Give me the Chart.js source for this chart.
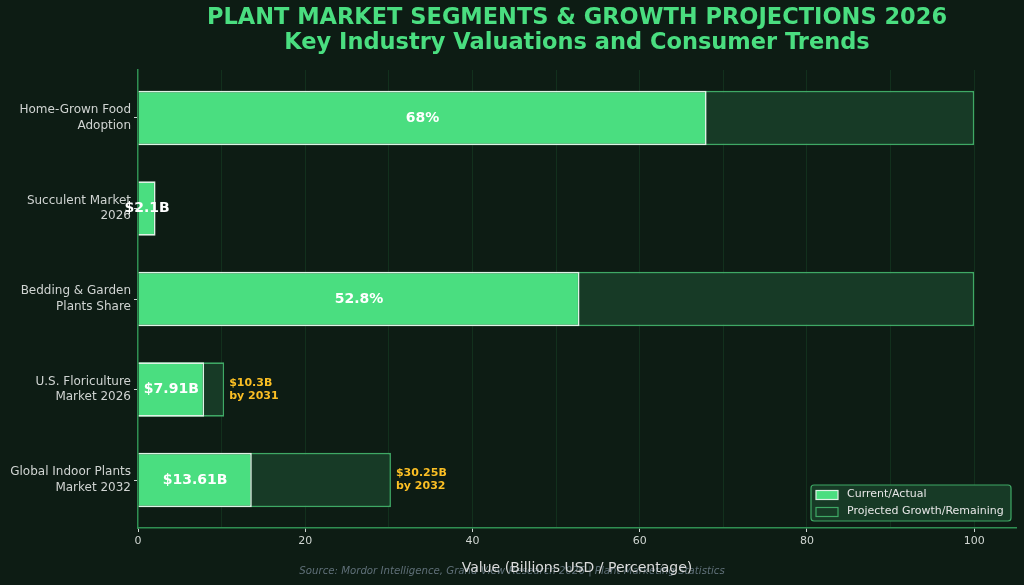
<!DOCTYPE html>
<html>
<head>
<meta charset="utf-8">
<script src="https://cdn.jsdelivr.net/npm/chart.js@4.4.1/dist/chart.umd.min.js"></script>
<style>
  html, body { margin: 0; padding: 0; background: #0d1c14; }
  #wrap { width: 1024px; height: 585px; }
</style>
</head>
<body>
<div id="wrap"><canvas id="chart" width="1024" height="585"></canvas></div>
<script>
// data
const categories = [
    ['Home-Grown Food', 'Adoption'],
    ['Succulent Market', '2026'],
    ['Bedding & Garden', 'Plants Share'],
    ['U.S. Floriculture', 'Market 2026'],
    ['Global Indoor Plants', 'Market 2032']
];
const currentValues = [68, 2.1, 52.8, 7.91, 13.61];
const projectedValues = [100, null, 100, 10.3, 30.25];
const currentLabels = ['68%', '$2.1B', '52.8%', '$7.91B', '$13.61B'];
const projectedLabels = [null, null, null, ['$10.3B', 'by 2031'], ['$30.25B', 'by 2032']];
const seriesNames = ['Current/Actual', 'Projected Growth/Remaining'];
const titleLines = ['PLANT MARKET SEGMENTS & GROWTH PROJECTIONS 2026', 'Key Industry Valuations and Consumer Trends'];
const xAxisTitle = 'Value (Billions USD / Percentage)';
const sourceText = 'Source: Mordor Intelligence, Grand View Research 2026 | Plant Marketing Statistics';

const FONT = "'DejaVu Sans', sans-serif";
const BG = '#0d1c14';
const GREEN = '#4ade80';
const DARK = '#173a26';
const EDGE = '#3fa865';
const SPINE = '#2f8f52';

// категории идут по линейной оси (индексы), чтобы поля сверху/снизу были как в оригинале
const toPoints = values => values
    .map((v, i) => ({ x: v, y: i }))
    .filter(p => p.x != null);

// фон и подпись источника (под всем остальным)
const backgroundPlugin = {
    id: 'bg',
    beforeDraw(chart) {
        const ctx = chart.ctx;
        ctx.save();
        ctx.fillStyle = BG;
        ctx.fillRect(0, 0, chart.width, chart.height);
        ctx.font = 'italic 10.2px ' + FONT;
        ctx.fillStyle = '#5f6f78';
        ctx.textAlign = 'center';
        ctx.textBaseline = 'middle';
        ctx.fillText(sourceText, 512, 571);
        ctx.restore();
    }
};

// подписи значений на столбцах
const valueLabelPlugin = {
    id: 'valueLabels',
    afterDatasetsDraw(chart) {
        const ctx = chart.ctx;
        ctx.save();
        ctx.textBaseline = 'middle';
        const curPoints = chart.data.datasets[0].data;
        chart.getDatasetMeta(0).data.forEach((bar, j) => {
            const i = curPoints[j].y;
            ctx.font = 'bold 14px ' + FONT;
            ctx.fillStyle = '#ffffff';
            ctx.textAlign = 'center';
            ctx.fillText(currentLabels[i], (bar.x + bar.base) / 2, bar.y);
        });
        const projPoints = chart.data.datasets[1].data;
        chart.getDatasetMeta(1).data.forEach((bar, j) => {
            const lines = projectedLabels[projPoints[j].y];
            if (!lines) return;
            ctx.font = 'bold 11px ' + FONT;
            ctx.fillStyle = '#fbbf24';
            ctx.textAlign = 'left';
            ctx.fillText(lines[0], bar.x + 5, bar.y - 6.5);
            ctx.fillText(lines[1], bar.x + 5, bar.y + 6.5);
        });
        ctx.restore();
    }
};

// легенда внутри области графика, справа внизу
const legendBoxPlugin = {
    id: 'legendBox',
    afterDraw(chart) {
        const ctx = chart.ctx;
        const area = chart.chartArea;
        const w = 200, h = 36;
        const x = area.right - w - 5;
        const y = area.bottom - h - 7;
        ctx.save();
        ctx.fillStyle = DARK;
        ctx.strokeStyle = EDGE;
        ctx.lineWidth = 1.2;
        ctx.beginPath();
        ctx.roundRect(x, y, w, h, 3);
        ctx.fill();
        ctx.stroke();
        chart.data.datasets.forEach((ds, i) => {
            const rowY = y + 9.5 + i * 17;
            ctx.fillStyle = ds.backgroundColor;
            ctx.strokeStyle = ds.borderColor;
            ctx.lineWidth = 1.2;
            ctx.fillRect(x + 5, rowY - 4, 22, 9);
            ctx.strokeRect(x + 5, rowY - 4, 22, 9);
            ctx.font = '11px ' + FONT;
            ctx.fillStyle = '#e6e6e6';
            ctx.textAlign = 'left';
            ctx.textBaseline = 'middle';
            ctx.fillText(ds.label, x + 36, rowY);
        });
        ctx.restore();
    }
};

const ctx = document.getElementById('chart').getContext('2d');
new Chart(ctx, {
    type: 'bar',
    data: {
        datasets: [
            {
                label: seriesNames[0],
                data: toPoints(currentValues),
                backgroundColor: GREEN,
                borderColor: '#dff2e6',
                borderWidth: 1.6,
                grouped: false,
                order: 0,
                categoryPercentage: 1,
                barPercentage: 0.6
            },
            {
                label: seriesNames[1],
                data: toPoints(projectedValues),
                backgroundColor: DARK,
                borderColor: EDGE,
                borderWidth: 1.6,
                grouped: false,
                order: 1,
                categoryPercentage: 1,
                barPercentage: 0.6
            }
        ]
    },
    options: {
        indexAxis: 'y',
        responsive: false,
        animation: false,
        devicePixelRatio: 1,
        layout: { padding: { top: 0, left: 0, right: 8, bottom: 0 } },
        plugins: {
            legend: { display: false },
            tooltip: { enabled: false },
            title: {
                display: true,
                text: titleLines,
                color: GREEN,
                fullSize: false,
                font: { family: FONT, size: 22.5, weight: 'bold', lineHeight: 1.1 },
                padding: { top: 6, bottom: 14.5 }
            }
        },
        scales: {
            x: {
                type: 'linear',
                min: 0,
                max: 105,
                z: 1,
                afterFit(scale) { scale.height = 57; },
                border: { color: SPINE, width: 1.5 },
                grid: {
                    color: c => (c.tick && c.tick.value > 0 && c.tick.value <= 100) ? 'rgba(30, 95, 52, 0.3)' : 'rgba(0,0,0,0)',
                    lineWidth: 1,
                    tickLength: 4,
                    tickColor: c => (c.tick && c.tick.value % 20 === 0) ? '#cfd6d2' : 'rgba(0,0,0,0)'
                },
                ticks: {
                    stepSize: 10,
                    autoSkip: false,
                    includeBounds: false,
                    maxRotation: 0,
                    padding: 3,
                    color: '#d0d6d2',
                    font: { family: FONT, size: 11 },
                    callback: v => (v % 20 === 0 ? v : '')
                },
                title: {
                    display: true,
                    text: xAxisTitle,
                    color: '#dcdcdc',
                    font: { family: FONT, size: 14 },
                    padding: { top: 0, bottom: 8 }
                }
            },
            y: {
                type: 'linear',
                reverse: true,
                min: -0.53,
                max: 4.53,
                offset: false,
                z: 1,
                afterFit(scale) { scale.width = 138; },
                border: { color: SPINE, width: 1.5 },
                grid: {
                    offset: false,
                    drawOnChartArea: false,
                    tickLength: 4,
                    tickColor: '#cfd6d2'
                },
                ticks: {
                    stepSize: 1,
                    autoSkip: false,
                    includeBounds: false,
                    padding: 3,
                    color: '#d0d4d2',
                    font: { family: FONT, size: 12, lineHeight: 1.28 },
                    callback: v => categories[v] || ''
                }
            }
        }
    },
    plugins: [backgroundPlugin, valueLabelPlugin, legendBoxPlugin]
});
</script>
</body>
</html>
